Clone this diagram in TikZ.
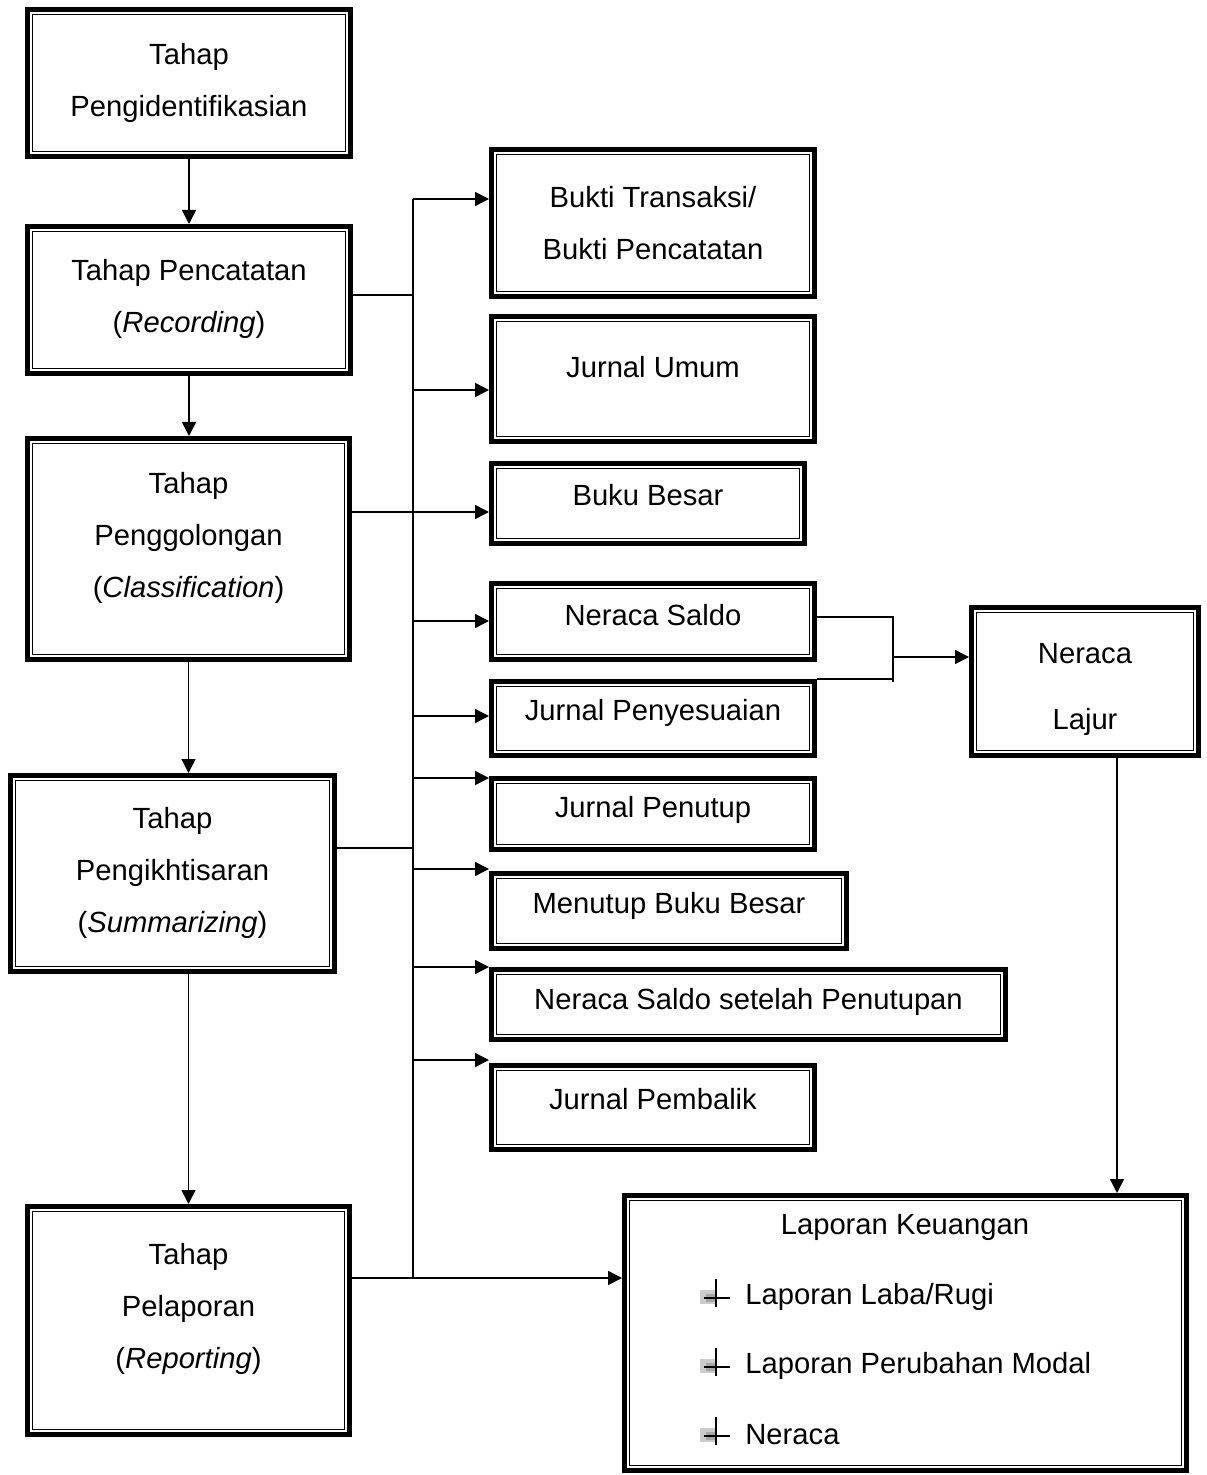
\documentclass[tikz,border=0pt]{standalone}
\usepackage{fontspec}
\setmainfont{Liberation Sans}
\usetikzlibrary{arrows.meta}

\begin{document}
\begin{tikzpicture}[x=0.5pt,y=0.5pt]
\tikzstyle{every node}+=[inner sep=0pt]
\tikzstyle{stage}=[draw, line width=2.7pt, path picture={\draw[line width=0.5pt] ([shift={(2.4pt,-2.4pt)}]path picture bounding box.north west) rectangle ([shift={(-2.4pt,2.4pt)}]path picture bounding box.south east);}]
\tikzstyle{lbl}=[font=\fontsize{14.6}{26}\selectfont, align=center]
\tikzstyle{link}=[line width=0.75pt]
\tikzstyle{arr}=[link, -{Triangle[length=7pt,width=7pt]}]
\useasboundingbox (0,0) rectangle (1206,-1475);
% left column
\node[stage, minimum width=161.3pt, minimum height=73.3pt] (ident) at (189,-83) {};
\node[lbl] (identtxt) at (189,-83) {Tahap\\Pengidentifikasian};
\node[stage, minimum width=161.3pt, minimum height=73.3pt] (catat) at (189,-300) {};
\node[lbl] (catattxt) at (189,-299) {Tahap Pencatatan\\(\textit{Recording})};
\node[stage, minimum width=160.8pt, minimum height=110.3pt] (golong) at (188.5,-549) {};
\node[lbl] (golongtxt) at (188.5,-538) {Tahap\\Penggolongan\\(\textit{Classification})};
\node[stage, minimum width=161.8pt, minimum height=97.8pt] (ikhtisar) at (172.5,-873.5) {};
\node[lbl] (ikhtisartxt) at (172.5,-873) {Tahap\\Pengikhtisaran\\(\textit{Summarizing})};
\node[stage, minimum width=160.8pt, minimum height=113.8pt] (lapor) at (188.5,-1320.5) {};
\node[lbl] (laportxt) at (188.5,-1309) {Tahap\\Pelaporan\\(\textit{Reporting})};
% right column
\node[stage, minimum width=161.3pt, minimum height=73.3pt] (bukti) at (653,-223) {};
\node[lbl] (buktitxt) at (653,-223) {Bukti Transaksi/\\Bukti Pencatatan};
\node[stage, minimum width=161.3pt, minimum height=62.3pt] (umum) at (653,-379) {};
\node[lbl] (umumtxt) at (653,-367) {Jurnal Umum};
\node[stage, minimum width=156.3pt, minimum height=39.8pt] (besar) at (648,-503.5) {};
\node[lbl] (besartxt) at (648,-495) {Buku Besar};
\node[stage, minimum width=161.3pt, minimum height=37.8pt] (saldo) at (653,-621.5) {};
\node[lbl] (saldotxt) at (653,-615) {Neraca Saldo};
\node[stage, minimum width=161.3pt, minimum height=36.8pt] (sesuai) at (653,-718.5) {};
\node[lbl] (sesuaitxt) at (653,-713) {Jurnal Penyesuaian};
\node[stage, minimum width=161.3pt, minimum height=35.3pt] (tutup) at (653,-814) {};
\node[lbl] (tutuptxt) at (653,-810) {Jurnal Penutup};
\node[stage, minimum width=177.3pt, minimum height=37.3pt] (menutup) at (669,-911) {};
\node[lbl] (menutuptxt) at (669,-906) {Menutup Buku Besar};
\node[stage, minimum width=256.8pt, minimum height=34.8pt] (nssp) at (748.5,-1004.5) {};
\node[lbl] (nssptxt) at (748.5,-1002) {Neraca Saldo setelah Penutupan};
\node[stage, minimum width=161.3pt, minimum height=41.8pt] (balik) at (653,-1107.5) {};
\node[lbl] (baliktxt) at (653,-1099) {Jurnal Pembalik};
\node[stage, minimum width=113.3pt, minimum height=73.8pt] (lajur) at (1085,-681.5) {};
\node[lbl] (lajurtxt) at (1085,-689) {Neraca\\[7pt]Lajur};
\node[stage, minimum width=280.8pt, minimum height=137.3pt] (laporan) at (905.5,-1333) {};
\node[lbl] (laporantxt) at (905,-1227) {Laporan Keuangan};
\node[lbl, anchor=west] (lr1) at (745,-1297) {Laporan Laba/Rugi};
\node[lbl, anchor=west] (lr2) at (745,-1366) {Laporan Perubahan Modal};
\node[lbl, anchor=west] (lr3) at (745,-1435) {Neraca};
\foreach \y in {1298,1367,1436} {
  \begin{scope}[shift={(716,-\y)}]
    \fill[gray!40] (-16,8) rectangle (-1,-6);
    \fill[gray!70] (-10,4) rectangle (-1,-4);
    \draw[line width=1pt] (0,19) -- (0,-9);
    \draw[line width=1.3pt] (-12,0) -- (14,0);
  \end{scope}
}
% left arrows
\draw[arr] (ident.south) -- (catat.north);
\draw[arr] (catat.south) -- (catat.south |- golong.north);
\draw[arr] (golong.south) -- (golong.south |- ikhtisar.north);
\draw[arr] (lapor.north |- ikhtisar.south) -- (lapor.north);
% bus
\coordinate (bustop) at (413,-199);
\coordinate (jcatat) at (413,-295);
\coordinate (bumum) at (413,-390);
\coordinate (bbesar) at (413,-512);
\coordinate (bsaldo) at (413,-621);
\coordinate (bsesuai) at (413,-716);
\coordinate (btutup) at (413,-778);
\coordinate (bikht) at (413,-848);
\coordinate (bmenutup) at (413,-869);
\coordinate (bnssp) at (413,-967);
\coordinate (bbalik) at (413,-1060);
\coordinate (busbot) at (413,-1278);
\draw[link] (bustop) -- (busbot);
\draw[arr] (bustop) -- (bustop -| bukti.west);
\draw[link] (jcatat -| catat.east) -- (jcatat);
\draw[arr] (bumum) -- (bumum -| umum.west);
\draw[arr] (bbesar -| golong.east) -- (bbesar -| besar.west);
\draw[arr] (bsaldo) -- (bsaldo -| saldo.west);
\draw[arr] (bsesuai) -- (bsesuai -| sesuai.west);
\draw[arr] (btutup) -- (btutup -| tutup.west);
\draw[link] (bikht -| ikhtisar.east) -- (bikht);
\draw[arr] (bmenutup) -- (bmenutup -| menutup.west);
\draw[arr] (bnssp) -- (bnssp -| nssp.west);
\draw[arr] (bbalik) -- (bbalik -| balik.west);
\draw[arr] (busbot -| lapor.east) -- (busbot -| laporan.west);
% neraca lajur
\coordinate (jtop) at (893,-617);
\coordinate (jmid) at (893,-657);
\coordinate (jbot) at (893,-682);
\draw[link] (jtop -| saldo.east) -- (jtop) -- (jbot);
\draw[link] (sesuai.north east) -- (sesuai.north east -| jtop);
\draw[arr] (jmid) -- (jmid -| lajur.west);
\draw[arr] ([xshift=16pt]lajur.south) -- ([xshift=16pt]lajur.south |- laporan.north);
\end{tikzpicture}
\end{document}
